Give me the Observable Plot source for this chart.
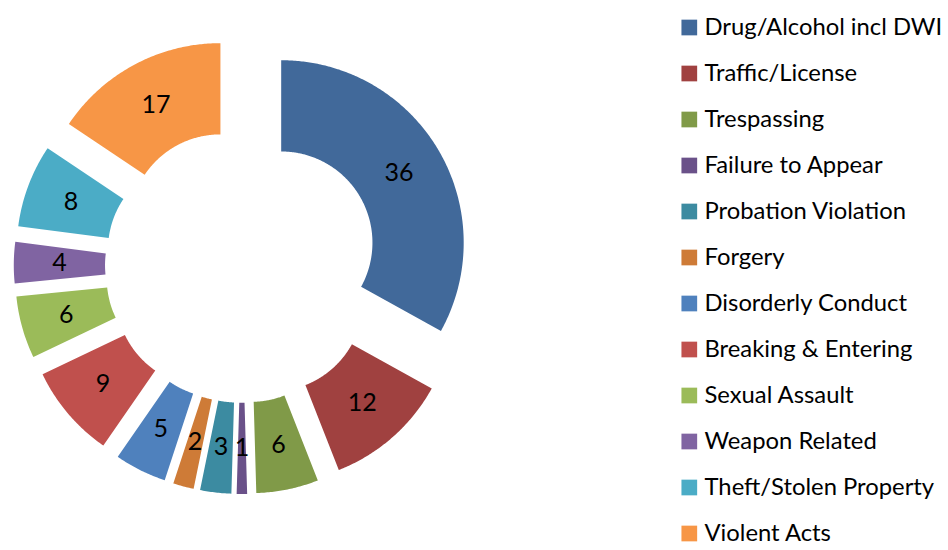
<!DOCTYPE html>
<html>
<head>
<meta charset="utf-8">
<script src="https://cdn.jsdelivr.net/npm/d3@7"></script>
<script src="https://cdn.jsdelivr.net/npm/@observablehq/plot@0.6"></script>
<style>
  body { margin: 0; background: #fff; }
  #wrap { display: flex; width: 948px; height: 550px; font-family: Lato, sans-serif; }
</style>
</head>
<body>
<div id="wrap"></div>
<script>
// ---- data ----
const categories = [
  "Drug/Alcohol incl DWI", "Traffic/License", "Trespassing", "Failure to Appear",
  "Probation Violation", "Forgery", "Disorderly Conduct", "Breaking & Entering",
  "Sexual Assault", "Weapon Related", "Theft/Stolen Property", "Violent Acts"
];
const counts = [36, 12, 6, 1, 3, 2, 5, 9, 6, 4, 8, 17];
const sliceColors = [
  "#41699A", "#A04140", "#809A48", "#6A5189", "#3C8BA1", "#CE7B37",
  "#4F81BD", "#C0504D", "#9BBB59", "#8064A2", "#4BACC6", "#F79646"
];

// ---- layout (not data) ----
const PIE = { width: 670, height: 550, cx: 241.4, cy: 265.4, R: 182.5, inner: 0.5, explode: 0.25 };
const LEG = { width: 278, height: 550, sqX: 18.8, textX: 34, top: 23.3, bottom: 536.7 };

// ---- geometry from data ----
const arcs = d3.pie().sort(null).value(d => d)(counts);
const outline = [];
const labels = [];
arcs.forEach((a, i) => {
  const name = categories[i];
  const mid = (a.startAngle + a.endAngle) / 2;
  const ox = PIE.explode * Math.sin(mid), oy = -PIE.explode * Math.cos(mid);
  const n = Math.max(2, Math.ceil((a.endAngle - a.startAngle) / (Math.PI / 360)) + 1);
  const pts = [];
  for (let k = 0; k < n; k++) {
    const t = a.startAngle + (a.endAngle - a.startAngle) * k / (n - 1);
    pts.push({ name, x: ox + Math.sin(t), y: oy - Math.cos(t) });
  }
  for (let k = n - 1; k >= 0; k--) {
    const t = a.startAngle + (a.endAngle - a.startAngle) * k / (n - 1);
    pts.push({ name, x: ox + PIE.inner * Math.sin(t), y: oy - PIE.inner * Math.cos(t) });
  }
  outline.push(...pts);
  const lr = (1 + PIE.inner) / 2;
  labels.push({ name, value: counts[i], x: ox + lr * Math.sin(mid), y: oy - lr * Math.cos(mid) });
});

const pie = Plot.plot({
  width: PIE.width, height: PIE.height,
  margin: 0,
  style: { fontFamily: "Lato, sans-serif", background: "transparent" },
  x: { domain: [-PIE.cx / PIE.R, (PIE.width - PIE.cx) / PIE.R], range: [0, PIE.width], axis: null },
  y: { domain: [-PIE.cy / PIE.R, (PIE.height - PIE.cy) / PIE.R], range: [0, PIE.height], axis: null },
  color: { type: "ordinal", domain: categories, range: sliceColors },
  marks: [
    Plot.line(outline, { x: "x", y: "y", z: "name", fill: "name", stroke: "none", curve: "linear" }),
    Plot.text(labels, { x: "x", y: "y", text: d => String(d.value), fill: "#000", fontSize: 25 })
  ]
});

const legend = Plot.plot({
  width: LEG.width, height: LEG.height,
  margin: 0,
  style: { fontFamily: "Lato, sans-serif", background: "transparent" },
  x: { domain: [0, LEG.width], range: [0, LEG.width], axis: null },
  y: { type: "point", domain: categories, range: [LEG.top, LEG.bottom], padding: 0, axis: null },
  color: { type: "ordinal", domain: categories, range: sliceColors },
  marks: [
    Plot.dot(categories, { x: () => LEG.sqX, y: d => d, fill: d => d, symbol: "square", r: 8.86, stroke: "none" }),
    Plot.text(categories, { x: () => LEG.textX, y: d => d, text: d => d, textAnchor: "start", fill: "#000", fontSize: 23.8 })
  ]
});

const wrap = document.getElementById("wrap");
wrap.appendChild(pie);
wrap.appendChild(legend);
</script>
</body>
</html>
